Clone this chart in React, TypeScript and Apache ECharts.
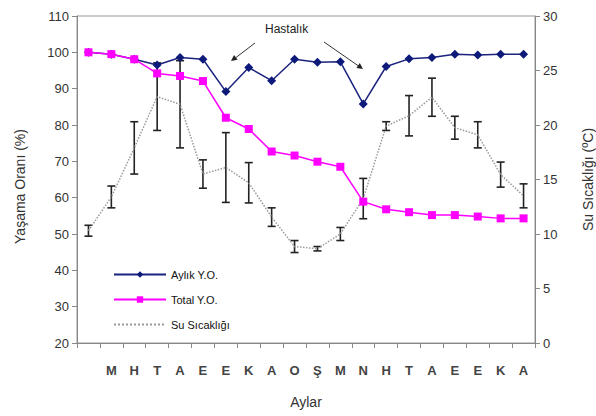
import React, { useEffect, useRef } from "react";
import * as echarts from "echarts";

const categories = ["", "M", "H", "T", "A", "E", "E", "K", "A", "O", "Ş", "M", "N", "H", "T", "A", "E", "E", "K", "A"];
const aylikYO = [100, 99.5, 98.1, 96.5, 98.6, 98.1, 89.2, 95.8, 92.2, 98.1, 97.3, 97.4, 85.8, 96.1, 98.2, 98.6, 99.5, 99.3, 99.5, 99.5];
const totalYO = [100, 99.5, 98.1, 94.2, 93.5, 92.1, 82, 78.9, 72.7, 71.6, 69.9, 68.5, 58.9, 56.8, 56, 55.2, 55.2, 54.8, 54.3, 54.3];
const suSicakligi = [10.3, 13.4, 17.9, 22.6, 21.9, 15.5, 16.1, 14.7, 11.55, 8.85, 8.65, 10.0, 13.25, 19.9, 20.85, 22.55, 19.75, 19.1, 15.45, 13.5];
const suSicakligiErr = [0.5, 1.0, 2.4, 3.1, 4.0, 1.3, 3.2, 1.85, 0.85, 0.55, 0.2, 0.6, 1.85, 0.4, 1.85, 1.75, 1.05, 1.2, 1.15, 1.1];
const leftTicks = { min: 20, max: 110, interval: 10 };
const rightTicks = { min: 0, max: 30, interval: 5 };

const FONT = "Liberation Sans";

export default function App() {
  const ref = useRef<HTMLDivElement>(null);
  useEffect(() => {
    if (!ref.current) return;
    const chart = echarts.init(ref.current, undefined, { renderer: "svg" });
    const errData = suSicakligi.map((m, i) => [i, m - suSicakligiErr[i], m + suSicakligiErr[i]]);
    const axisLine = { show: true, lineStyle: { color: "#888", width: 1 } };
    const tickStyle = { show: true, length: 5, lineStyle: { color: "#888" } };
    const labelStyle = { color: "#333", fontFamily: FONT, fontSize: 13 };
    const ink = "#222";
    const option: any = {
      animation: false,
      backgroundColor: "#fff",
      grid: {
        left: 77, right: 61, top: 16, bottom: 73,
        show: true, borderColor: "#999", borderWidth: 1,
        containLabel: false, outerBoundsMode: "none",
      },
      legend: {
        show: true,
        orient: "vertical",
        left: 108,
        top: 264,
        itemWidth: 52,
        itemHeight: 8,
        itemGap: 14,
        data: [
          { name: "Aylık Y.O." },
          { name: "Total Y.O." },
          { name: "Su Sıcaklığı", itemStyle: { opacity: 0 } },
        ],
        textStyle: { fontFamily: FONT, fontSize: 11, color: "#111" },
      },
      xAxis: {
        type: "category",
        data: categories,
        boundaryGap: true,
        axisLine: axisLine,
        axisTick: { ...tickStyle, interval: 0 },
        axisLabel: { ...labelStyle, fontSize: 13, fontWeight: "bold", color: "#444", margin: 21, interval: 0 },
        name: "Aylar",
        nameLocation: "middle",
        nameGap: 52,
        nameTextStyle: { fontFamily: FONT, fontSize: 14, color: "#333" },
        splitLine: { show: false },
      },
      yAxis: [
        {
          type: "value",
          ...leftTicks,
          axisLine: axisLine,
          axisTick: tickStyle,
          axisLabel: { ...labelStyle, margin: 8 },
          splitLine: { show: false },
          name: "Yaşama Oranı (%)",
          nameLocation: "middle",
          nameGap: 50,
          nameTextStyle: { fontFamily: FONT, fontSize: 14, color: "#333", padding: [0, 14, 0, 0] },
        },
        {
          type: "value",
          ...rightTicks,
          position: "right",
          axisLine: axisLine,
          axisTick: tickStyle,
          axisLabel: { ...labelStyle, margin: 8 },
          splitLine: { show: false },
          name: "Su Sıcaklığı (ºC)",
          nameLocation: "middle",
          nameGap: 46,
          nameRotate: 90,
          nameTextStyle: { fontFamily: FONT, fontSize: 14, color: "#333" },
        },
      ],
      series: [
        {
          name: "errbars",
          type: "custom",
          yAxisIndex: 1,
          z: 2,
          encode: { x: 0, y: [1, 2] },
          data: errData,
          renderItem: (params: any, api: any) => {
            const x = api.value(0);
            const top = api.coord([x, api.value(2)]);
            const bot = api.coord([x, api.value(1)]);
            const w = 4;
            const style = { stroke: ink, lineWidth: 1.6 };
            return {
              type: "group",
              children: [
                { type: "line", shape: { x1: top[0], y1: top[1], x2: bot[0], y2: bot[1] }, style },
                { type: "line", shape: { x1: top[0] - w, y1: top[1], x2: top[0] + w, y2: top[1] }, style },
                { type: "line", shape: { x1: bot[0] - w, y1: bot[1], x2: bot[0] + w, y2: bot[1] }, style },
              ],
            };
          },
        },
        {
          name: "Su Sıcaklığı",
          type: "line",
          yAxisIndex: 1,
          z: 2,
          data: suSicakligi,
          symbol: "none",
          lineStyle: { color: "#999", width: 1.5, type: "dotted" },
          itemStyle: { color: "#999" },
        },
        {
          name: "Aylık Y.O.",
          type: "line",
          yAxisIndex: 0,
          z: 3,
          data: aylikYO,
          symbol: "diamond",
          symbolSize: 9,
          lineStyle: { color: "#1a237e", width: 1.5 },
          itemStyle: { color: "#0d1a7a" },
        },
        {
          name: "Total Y.O.",
          type: "line",
          yAxisIndex: 0,
          z: 4,
          data: totalYO,
          symbol: "rect",
          symbolSize: 8,
          lineStyle: { color: "#ff00ff", width: 1.5 },
          itemStyle: { color: "#ff00ff" },
        },
      ],
      graphic: [
        {
          type: "text",
          left: 265,
          top: 23,
          style: { text: "Hastalık", fontFamily: FONT, fontSize: 12, fill: "#222" },
        },
        { type: "line", shape: { x1: 255, y1: 43, x2: 234, y2: 59 }, style: { stroke: "#333", lineWidth: 1 } },
        { type: "polygon", shape: { points: [[231, 61], [237.6, 59.8], [234, 55]] }, style: { fill: "#222" } },
        { type: "line", shape: { x1: 324, y1: 42, x2: 360, y2: 67 }, style: { stroke: "#333", lineWidth: 1 } },
        { type: "polygon", shape: { points: [[363, 69], [356.4, 68.1], [359.8, 63.1]] }, style: { fill: "#222" } },
      ],
    };
    chart.setOption(option);
    return () => chart.dispose();
  }, []);
  return <div ref={ref} style={{ width: 596, height: 416, position: "absolute", left: 0, top: 0 }} />;
}
